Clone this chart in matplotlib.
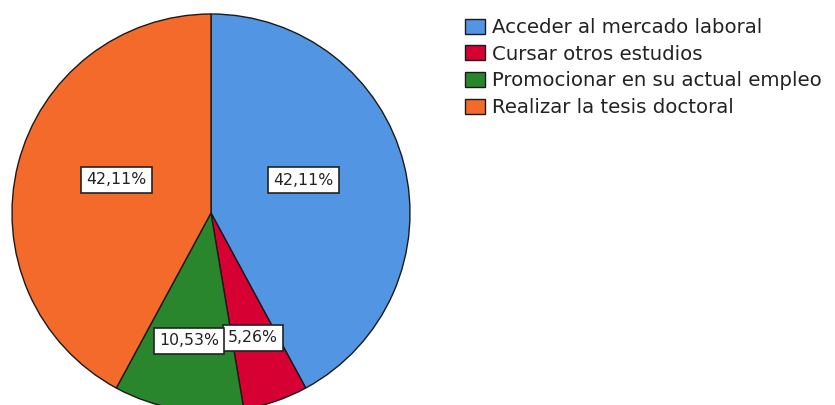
import matplotlib.pyplot as plt
import numpy as np

categories = [
    "Acceder al mercado laboral",
    "Cursar otros estudios",
    "Promocionar en su actual empleo",
    "Realizar la tesis doctoral",
]
percentages = [42.11, 5.26, 10.53, 42.11]
pct_labels = ["42,11%", "5,26%", "10,53%", "42,11%"]
colors = ["#5195E3", "#D70033", "#2A862C", "#F46A2B"]
# where each percentage box sits: distance from centre and a vertical nudge
label_dist = [0.48, 0.65, 0.67, 0.49]
label_dy = [0.048, -0.013, 0.018, 0.046]

W, H = 835, 405
fig = plt.figure(figsize=(W / 100, H / 100), dpi=100)
cx, cy, r = 211, 213, 199
ax = fig.add_axes([(cx - r) / W, (H - cy - r) / H, 2 * r / W, 2 * r / H])

wedges, _ = ax.pie(
    percentages,
    colors=colors,
    startangle=90,
    counterclock=False,
    radius=1,
    wedgeprops=dict(edgecolor="#1a1a1a", linewidth=1.0),
)
ax.set_xlim(-1, 1)
ax.set_ylim(-1, 1)
ax.set_aspect("equal")
ax.axis("off")

for w, lab, d, dy in zip(wedges, pct_labels, label_dist, label_dy):
    mid = np.deg2rad((w.theta1 + w.theta2) / 2)
    ax.text(
        d * np.cos(mid), d * np.sin(mid) + dy, lab,
        ha="center", va="center", fontsize=11.3, color="#222222",
        bbox=dict(boxstyle="square,pad=0.33", facecolor="white",
                  edgecolor="#222222", linewidth=1.2),
    )

leg = fig.legend(
    wedges, categories,
    loc="upper left", bbox_to_anchor=(465 / W, 1 - 18 / H),
    frameon=False, fontsize=14.2, handlelength=1.03, handleheight=0.8,
    handletextpad=0.35, labelspacing=0.39, borderaxespad=0, borderpad=0,
)
for t in leg.get_texts():
    t.set_color("#222222")

fig.savefig("out.png", dpi=100)
